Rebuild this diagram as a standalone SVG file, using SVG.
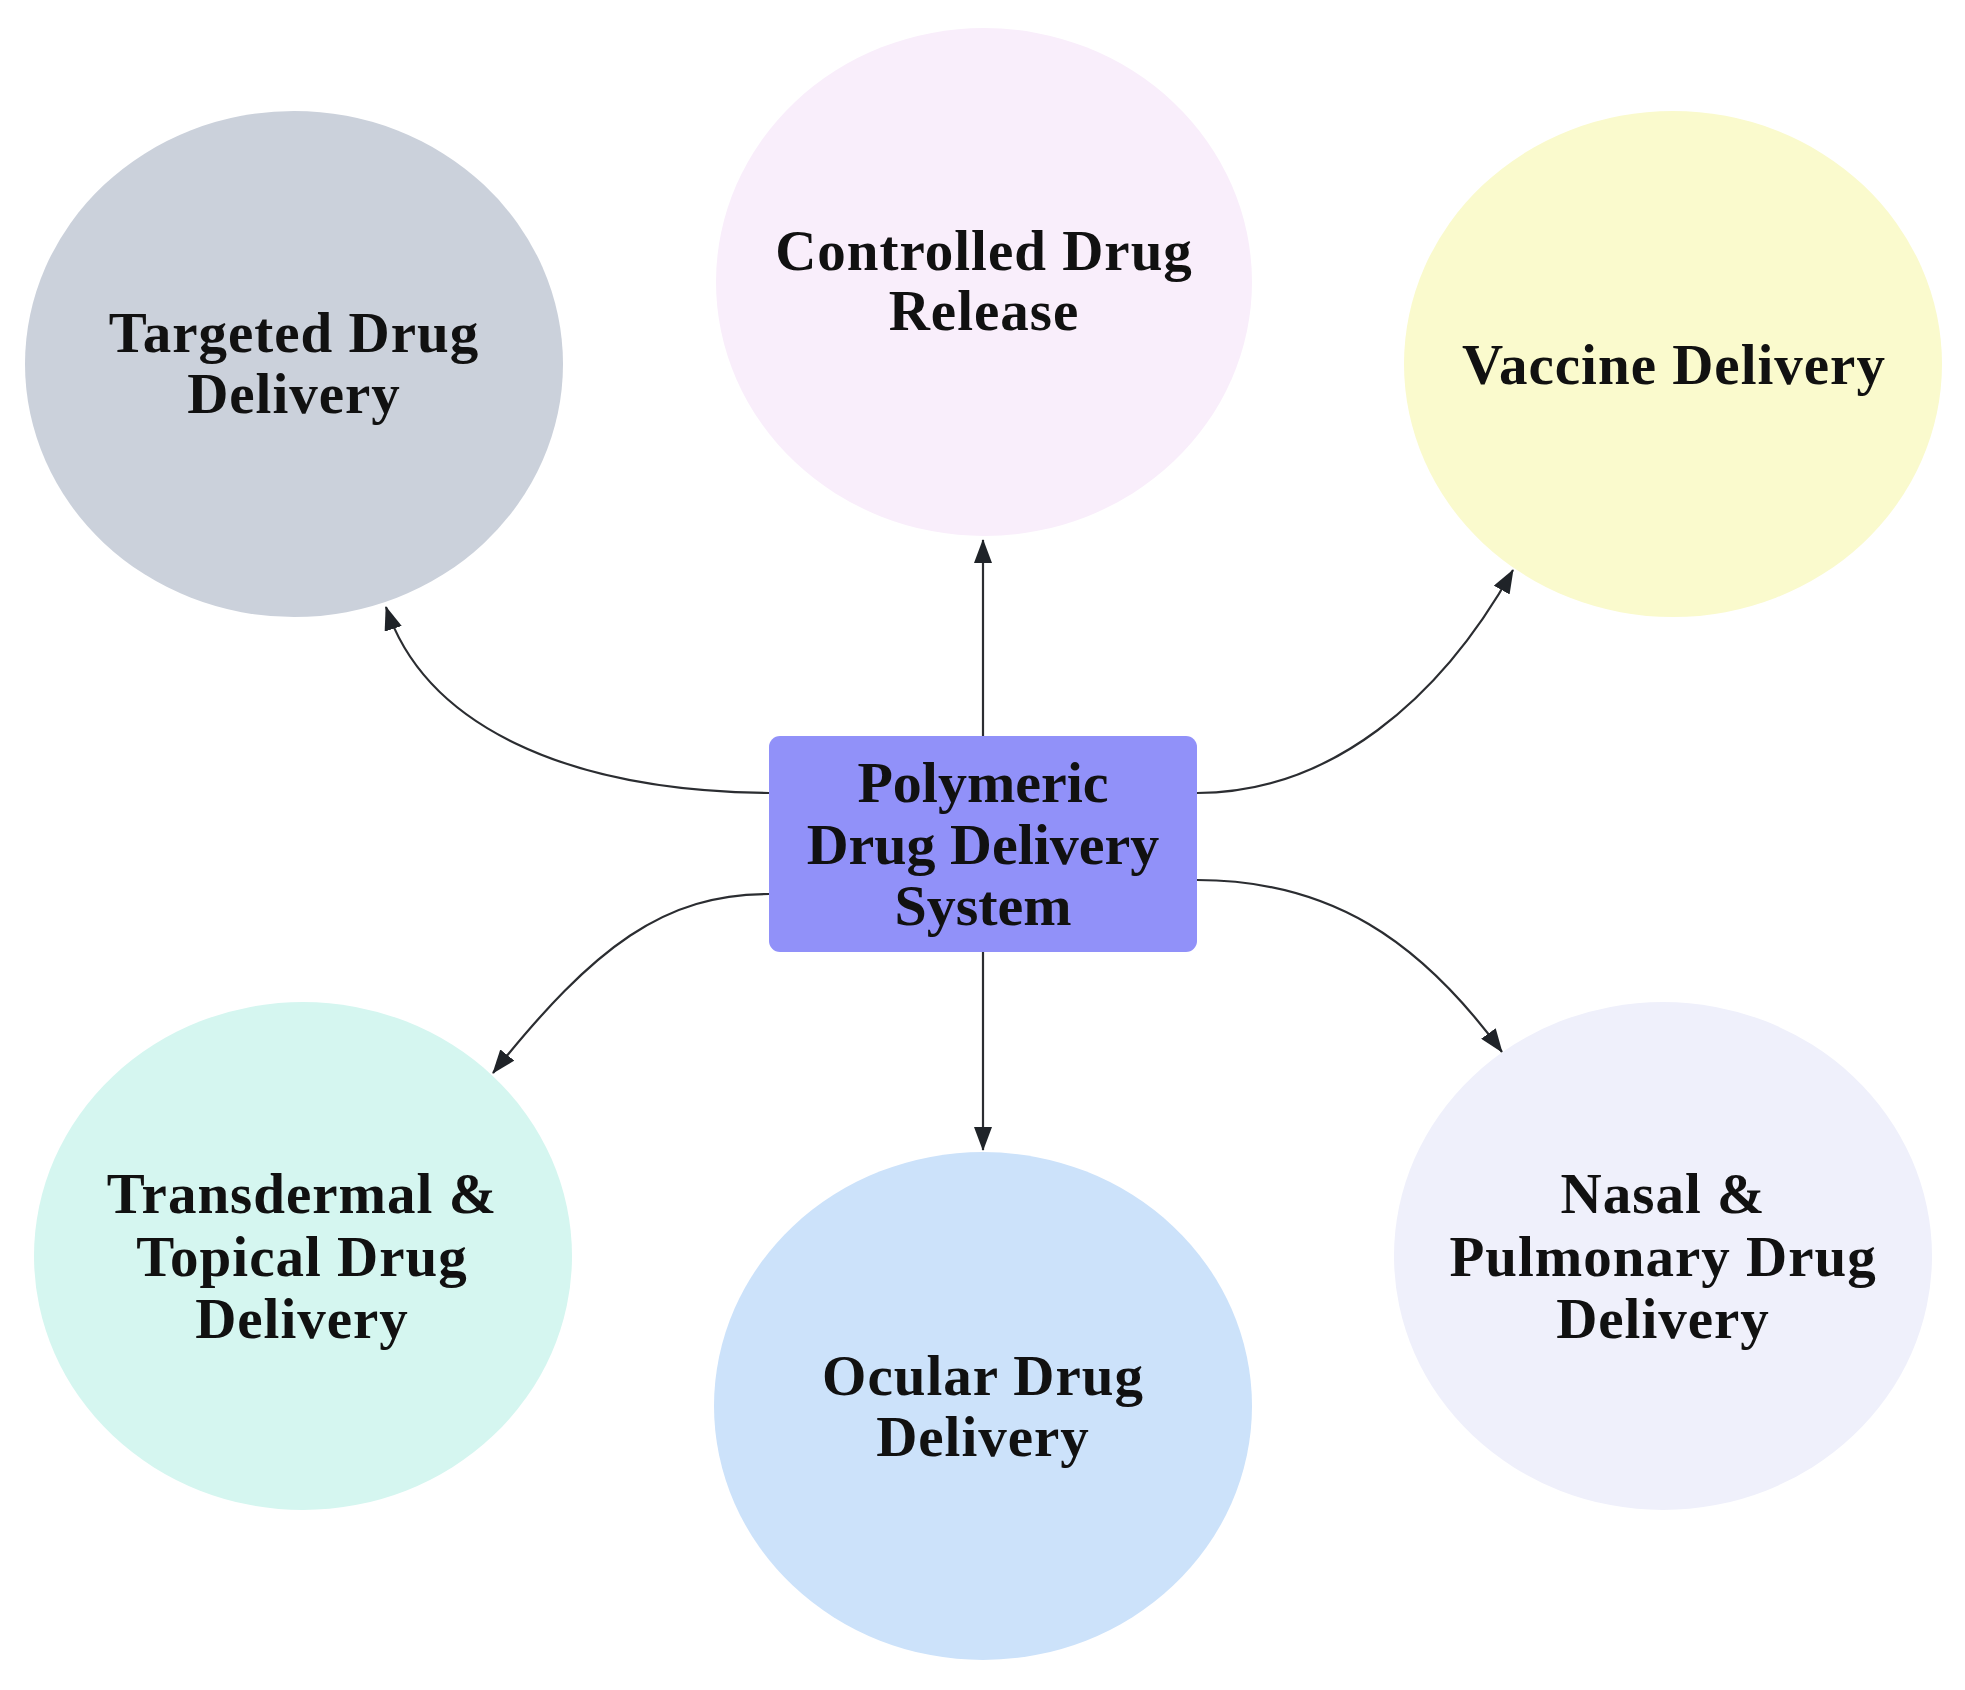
<svg xmlns="http://www.w3.org/2000/svg" width="1965" height="1690" viewBox="0 0 1965 1690">
<defs>
<style>
.bubble text{font-family:"Liberation Serif","Times New Roman",serif;font-weight:bold;font-size:57px;letter-spacing:1px;fill:#111;text-anchor:middle}
.hub text{font-family:"Liberation Serif","Times New Roman",serif;font-weight:bold;font-size:58px;fill:#111;text-anchor:middle}
.conn{fill:none;stroke:#2b2d31;stroke-width:2.2}
</style>
<marker id="arr" markerUnits="userSpaceOnUse" markerWidth="24" markerHeight="18" viewBox="0 0 24 18" refX="23" refY="9" orient="auto">
<path d="M0,0 L24,9 L0,18 Z" fill="#1f2328"/>
</marker>
</defs>
<rect width="1965" height="1690" fill="#ffffff"/>

<g id="connectors">
<path class="conn" marker-end="url(#arr)" d="M983,737 L983,540"/>
<path class="conn" marker-end="url(#arr)" d="M983,952 L983,1150"/>
<path class="conn" marker-end="url(#arr)" d="M769,793 C565,791 425,725 386,607"/>
<path class="conn" marker-end="url(#arr)" d="M769,894 C665,894 595,945 493,1073"/>
<path class="conn" marker-end="url(#arr)" d="M1197,793 C1330,793 1440,700 1513,570"/>
<path class="conn" marker-end="url(#arr)" d="M1197,880 C1330,880 1420,940 1502,1052"/>
</g>

<g id="node-targeted" class="bubble">
<ellipse cx="294" cy="364" rx="269" ry="253" fill="#cbd1db"/>
<text x="294" y="352">Targeted Drug</text>
<text x="294" y="413">Delivery</text>
</g>

<g id="node-controlled" class="bubble">
<ellipse cx="984" cy="282" rx="268" ry="254" fill="#f9eefb"/>
<text x="984" y="270">Controlled Drug</text>
<text x="984" y="330">Release</text>
</g>

<g id="node-vaccine" class="bubble">
<ellipse cx="1673" cy="364" rx="269" ry="253" fill="#fafacd"/>
<text x="1674" y="384">Vaccine Delivery</text>
</g>

<g id="node-transdermal" class="bubble">
<ellipse cx="303" cy="1256" rx="269" ry="254" fill="#d5f6f0"/>
<text x="302" y="1213">Transdermal &amp;</text>
<text x="302" y="1276">Topical Drug</text>
<text x="302" y="1338">Delivery</text>
</g>

<g id="node-ocular" class="bubble">
<ellipse cx="983" cy="1406" rx="269" ry="254" fill="#cce2fa"/>
<text x="983" y="1395">Ocular Drug</text>
<text x="983" y="1456">Delivery</text>
</g>

<g id="node-nasal" class="bubble">
<ellipse cx="1663" cy="1256" rx="269" ry="254" fill="#eff0fb"/>
<text x="1663" y="1213">Nasal &amp;</text>
<text x="1663" y="1276">Pulmonary Drug</text>
<text x="1663" y="1338">Delivery</text>
</g>

<g id="node-hub" class="hub">
<rect x="769" y="736" width="428" height="216" rx="11" ry="11" fill="#9191f9"/>
<text x="983" y="802">Polymeric</text>
<text x="983" y="864">Drug Delivery</text>
<text x="983" y="925">System</text>
</g>
</svg>
